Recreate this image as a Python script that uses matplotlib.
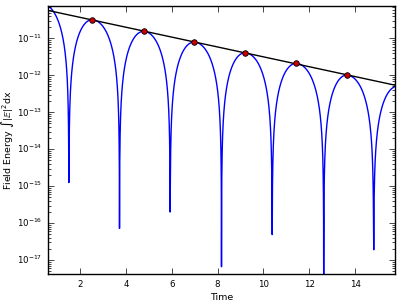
import numpy as np
import matplotlib
matplotlib.use('Agg')
import matplotlib.pyplot as plt

plt.style.use('classic')
plt.rcParams['mathtext.fontset'] = 'dejavusans'

# lobe peaks (first and last lobes run off the plot edges)
lobe_peak_t = [0.35, 2.52, 4.77, 6.97, 9.19, 11.42, 13.63, 15.85]
lobe_peak_v = [8.6e-11, 3.21e-11, 1.56e-11, 7.98e-12, 4.09e-12, 2.11e-12, 1.02e-12, 5.1e-13]

# sampled minima of the field energy
dip_t = [1.51, 3.72, 5.93, 8.17, 10.38, 12.63, 14.81]
dip_v = [1.26e-15, 7.2e-17, 2.0e-16, 6.6e-18, 4.9e-17, 1.0e-18, 1.9e-17]

# peaks marked with red dots
mark_t = lobe_peak_t[1:7]
mark_v = lobe_peak_v[1:7]

y_ticks = [1e-17, 1e-16, 1e-15, 1e-14, 1e-13, 1e-12, 1e-11]
x_ticks = [2, 4, 6, 8, 10, 12, 14]

t_start, t_end = 0.6, 15.74

# build the energy curve lobe by lobe between the minima
t = np.linspace(t_start, t_end, 4000)
edges = [-np.inf] + dip_t + [np.inf]
energy = np.zeros_like(t)
for i in range(len(lobe_peak_t)):
    sel = (t > edges[i]) & (t < edges[i + 1])
    tp, vp = lobe_peak_t[i], lobe_peak_v[i]
    left = tp - edges[i] if np.isfinite(edges[i]) else edges[i + 1] - tp
    right = edges[i + 1] - tp if np.isfinite(edges[i + 1]) else tp - edges[i]
    half = np.where(t[sel] < tp, left, right)
    energy[sel] = vp * np.cos(0.5 * np.pi * (t[sel] - tp) / half) ** 2

# the sampled curve never gets below the depth of the nearest minimum
nearest = np.abs(t[:, None] - np.array(dip_t)[None, :]).argmin(axis=1)
energy = np.maximum(energy, np.array(dip_v)[nearest])

t = np.concatenate([t, dip_t])
energy = np.concatenate([energy, dip_v])
order = np.argsort(t)
t, energy = t[order], energy[order]

# exponential decay fitted through the marked peaks
slope, icpt = np.polyfit(mark_t, np.log10(mark_v), 1)
fit_t = np.array([t_start, t_end])
fit_v = 10 ** (icpt + slope * fit_t)

fig = plt.figure(figsize=(4, 3.06), dpi=100, facecolor='white')
ax = fig.add_axes([0.12, 0.1046, 0.8675, 0.8768])
ax.semilogy(t, energy, color='b', lw=1)
ax.semilogy(fit_t, fit_v, color='k', lw=1)
ax.semilogy(mark_t, mark_v, 'o', color='#cc0000', mec='k', mew=0.6, ms=4)

ax.set_xlim(t_start, t_end)
ax.set_ylim(4.2e-18, 7.7e-11)
ax.set_xticks(x_ticks)
ax.set_yticks(y_ticks)
ax.tick_params(labelsize=6.2)
ax.set_xlabel('Time', fontsize=6.8, labelpad=3)
ax.set_ylabel(r'Field Energy $\int|\mathbb{E}|^2$dx', fontsize=6.8)
ax.yaxis.set_label_coords(-0.092, 0.5)

fig.savefig('out.png', dpi=100, facecolor='white')
